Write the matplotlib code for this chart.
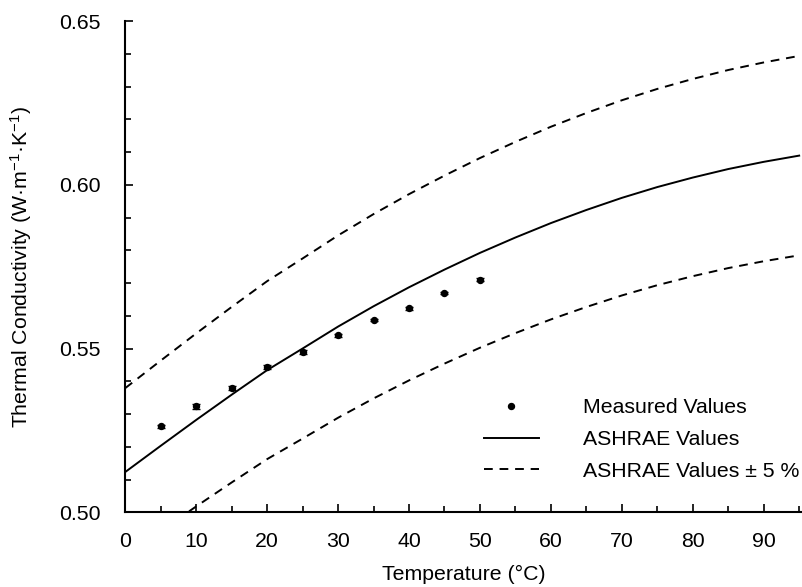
import matplotlib
matplotlib.use("Agg")
import matplotlib.pyplot as plt
from matplotlib.lines import Line2D
from matplotlib.ticker import MultipleLocator, FormatStrFormatter
import numpy as np

plt.rcParams["font.family"] = ["Liberation Sans", "DejaVu Sans"]
plt.rcParams["mathtext.fontset"] = "custom"
plt.rcParams["mathtext.rm"] = "Liberation Sans"
plt.rcParams["mathtext.default"] = "regular"

FS = 15.3

# measured values
temp_meas = [5, 10, 15, 20, 25, 30, 35, 40, 45, 50]
k_meas = [0.5262, 0.5323, 0.5380, 0.5443, 0.5489, 0.5540, 0.5587, 0.5623, 0.5670, 0.5710]
k_err = [0.0005, 0.0007, 0.0007, 0.0007, 0.0005, 0.0004, 0.0004, 0.0004, 0.0004, 0.0004]

# ASHRAE reference curve
temp_ashrae = [0, 5, 10, 15, 20, 25, 30, 35, 40, 45, 50, 55, 60, 65, 70, 75, 80, 85, 90, 95]
k_ashrae = [0.5123, 0.5203, 0.5282, 0.5359, 0.5434, 0.5500, 0.5567, 0.5629, 0.5687, 0.5741,
            0.5792, 0.5839, 0.5883, 0.5923, 0.5960, 0.5993, 0.6022, 0.6048, 0.6070, 0.6089]
band = 0.05   # +/- 5 %

k_hi = np.array(k_ashrae) * (1 + band)
k_lo = np.array(k_ashrae) * (1 - band)

fig = plt.figure(figsize=(8.02, 5.87), dpi=100)
ax = fig.add_axes([0.1562, 0.1273, 0.8438, 0.8369])

ax.errorbar(temp_meas, k_meas, yerr=k_err, fmt="o", color="black", markersize=4.3,
            capsize=3.2, elinewidth=1.0, capthick=1.0, zorder=3)
ax.plot(temp_ashrae, k_ashrae, color="black", lw=1.4)
dash = (0, (4.5, 3.5))
ax.plot(temp_ashrae, k_hi, color="black", lw=1.4, ls=dash)
ax.plot(temp_ashrae, k_lo, color="black", lw=1.4, ls=dash)

ax.set_xlim(0, 95.4)
ax.set_ylim(0.50, 0.65)
ax.xaxis.set_major_locator(MultipleLocator(10))
ax.xaxis.set_minor_locator(MultipleLocator(5))
ax.yaxis.set_major_locator(MultipleLocator(0.05))
ax.yaxis.set_minor_locator(MultipleLocator(0.01))
ax.yaxis.set_major_formatter(FormatStrFormatter("%.2f"))
ax.tick_params(which="both", direction="in", width=1.2, labelsize=FS)
ax.tick_params(which="major", length=6)
ax.tick_params(which="minor", length=4)
ax.tick_params(axis="y", which="major", pad=18)
ax.tick_params(axis="x", which="major", pad=14)
for s in ["top", "right"]:
    ax.spines[s].set_visible(False)
for s in ["left", "bottom"]:
    ax.spines[s].set_linewidth(1.5)

ax.set_xlabel("Temperature (\u00b0C)", fontsize=FS, labelpad=10)
ax.set_ylabel("Thermal Conductivity (W\u00b7m$^{-1}$\u00b7K$^{-1}$)", fontsize=FS, labelpad=18)

handles = [
    Line2D([], [], color="black", marker="o", markersize=4.3, ls="none"),
    Line2D([], [], color="black", lw=1.4),
    Line2D([], [], color="black", lw=1.4, ls=dash),
]
labels = ["Measured Values", "ASHRAE Values", "ASHRAE Values \u00b1 5 %"]
ax.legend(handles, labels, loc="lower right", bbox_to_anchor=(1.025, 0.025), frameon=False,
          fontsize=FS, handlelength=2.6, labelspacing=0.6, handletextpad=2.1)

fig.savefig("out.png", dpi=100)
